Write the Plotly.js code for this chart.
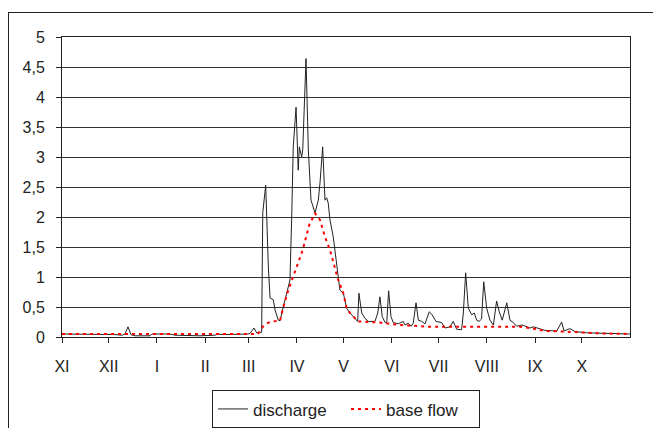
<!DOCTYPE html>
<html>
<head>
<meta charset="utf-8">
<script src="https://cdn.plot.ly/plotly-3.0.1.min.js"></script>
<style>
html,body{margin:0;padding:0;background:#fff;overflow:hidden;}
#frame{position:absolute;left:8px;top:12px;width:700px;height:500px;border:1px solid #222;box-sizing:border-box;pointer-events:none;}
#chart{position:absolute;left:0;top:0;width:653px;height:428px;}
</style>
</head>
<body>
<div id="chart"></div>
<div id="frame"></div>
<script>
// day of hydrological year (0 = 1 Nov)
const dischargeDay = [0,11.6,24.4,34.1,38.6,40.5,42.4,44.3,46.9,56.5,57.8,69.4,72.6,88.7,98.3,100.2,102.8,114.4,119.5,120.8,123.4,125.1,128.3,129.0,130.9,132.6,133.7,135.8,136.9,139.0,140.1,142.2,144.4,146.5,147.6,148.6,150.4,151.8,152.5,154.0,154.7,156.8,158.3,160.0,162.6,164.7,165.8,167.5,169.0,170.1,171.1,172.2,174.3,176.5,178.6,180.8,182.9,185.1,188.3,190.0,190.8,192.6,194.7,196.8,201.1,202.9,204.3,205.8,207.6,208.7,209.9,211.4,212.9,216.1,219.3,220.4,222.5,224.3,225.7,227.5,229.0,231.1,233.3,236.0,237.6,240.3,244.0,246.1,249.3,251.4,253.6,256.8,257.9,259.4,261.1,263.3,264.9,266.5,268.0,269.6,271.0,272.9,275.0,277.2,279.3,281.0,282.9,285.8,287.9,290.0,292.2,295.6,300.7,302.9,310.4,317.9,321.1,322.6,326.4,329.7,337.2,348.9,365];
const dischargeVal = [0.05,0.05,0.05,0.04,0.03,0.05,0.17,0.04,0.02,0.02,0.05,0.05,0.03,0.02,0.03,0.05,0.04,0.04,0.05,0.06,0.15,0.07,0.08,2.07,2.53,1.17,0.65,0.62,0.45,0.28,0.27,0.5,0.73,0.95,2.0,3.17,3.83,2.78,3.17,3.0,3.12,4.64,3.12,2.28,2.07,2.28,2.57,3.17,2.28,2.32,2.23,1.95,1.67,1.17,0.78,0.73,0.48,0.4,0.31,0.26,0.73,0.4,0.31,0.26,0.26,0.4,0.67,0.34,0.24,0.24,0.77,0.34,0.24,0.22,0.26,0.2,0.23,0.18,0.23,0.57,0.28,0.26,0.22,0.42,0.38,0.26,0.24,0.15,0.17,0.26,0.13,0.12,0.4,1.07,0.48,0.37,0.4,0.28,0.26,0.3,0.92,0.48,0.28,0.2,0.6,0.42,0.28,0.57,0.28,0.24,0.18,0.2,0.15,0.17,0.11,0.1,0.25,0.1,0.14,0.09,0.07,0.06,0.05];

const baseDay = [0,43.7,63,120.8,125.9,129.0,132.6,135.8,140.1,142.2,145.4,150.8,154.7,158.9,162.6,165.8,169.0,172.2,175.4,177.5,180.8,182.9,185.1,188.3,190.2,204.3,217.2,236.5,255.8,294.3,300.7,310.4,323.2,345.7,365];
const baseVal = [0.05,0.05,0.04,0.04,0.05,0.17,0.24,0.26,0.27,0.5,0.78,1.17,1.45,1.87,2.06,1.95,1.67,1.45,1.17,0.95,0.73,0.48,0.4,0.3,0.26,0.24,0.2,0.17,0.17,0.17,0.15,0.1,0.09,0.06,0.05];

const monthStart = [0,30,61,92,120,151,181,212,242,273,304,334];
const monthLabels = ['XI','XII','I','II','III','IV','V','VI','VII','VIII','IX','X'];
const yTicks = [0,0.5,1,1.5,2,2.5,3,3.5,4,4.5,5];
const yLabels = ['0','0,5','1','1,5','2','2,5','3','3,5','4','4,5','5'];

const traces = [
  {x: dischargeDay, y: dischargeVal, name: 'discharge', type: 'scatter', mode: 'lines',
   line: {color: '#222', width: 1}},
  {x: baseDay, y: baseVal, name: 'base flow', type: 'scatter', mode: 'lines',
   line: {color: '#ff0000', width: 2, dash: '3px,4px'}}
];

const layout = {
  width: 653, height: 428,
  margin: {l: 62, r: 23, t: 37, b: 91, autoexpand: false},
  paper_bgcolor: 'rgba(0,0,0,0)',
  plot_bgcolor: '#fff',
  font: {family: '"Liberation Sans", Arial, sans-serif', size: 16, color: '#222'},
  showlegend: true,
  legend: {orientation: 'h', x: 0.5, xanchor: 'center', y: -0.178, yanchor: 'top',
    bordercolor: '#222', borderwidth: 1, font: {size: 17},
    entrywidth: 88, entrywidthmode: 'pixels', tracegroupgap: 0},
  xaxis: {range: [0, 365], tickmode: 'array', tickvals: monthStart, ticktext: monthLabels,
    ticks: 'outside', ticklen: 5, tickcolor: '#222', showgrid: false, zeroline: false,
    showline: true, linecolor: '#222', linewidth: 1, mirror: true,
    ticklabelstandoff: 10, tickfont: {size: 16}},
  yaxis: {range: [0, 5], tickmode: 'array', tickvals: yTicks, ticktext: yLabels,
    ticks: 'outside', ticklen: 5, tickcolor: '#222', showgrid: true, gridcolor: '#333', gridwidth: 1,
    zeroline: false, showline: true, linecolor: '#222', linewidth: 1, mirror: true,
    ticklabelstandoff: 8, tickfont: {size: 16}}
};

Plotly.newPlot('chart', traces, layout, {displayModeBar: false, staticPlot: true});
</script>
</body>
</html>
